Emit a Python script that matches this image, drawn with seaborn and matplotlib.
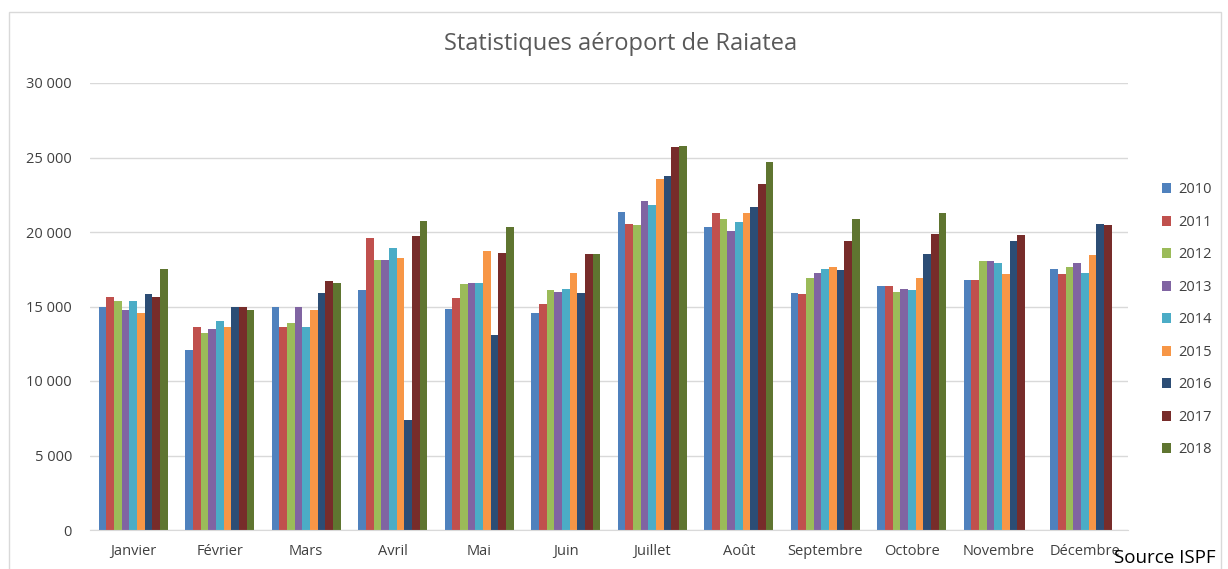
import numpy as np
import pandas as pd
import seaborn as sns
import matplotlib.pyplot as plt
from matplotlib.patches import Rectangle
from matplotlib.ticker import FuncFormatter

mois = ['Janvier', 'Février', 'Mars', 'Avril', 'Mai', 'Juin', 'Juillet',
        'Août', 'Septembre', 'Octobre', 'Novembre', 'Décembre']
annees = ['2010', '2011', '2012', '2013', '2014', '2015', '2016', '2017', '2018']

v2010 = [15000, 12100, 15000, 16100, 14850, 14550, 21350, 20350, 15900, 16400, 16800, 17550]
v2011 = [15650, 13650, 13650, 19600, 15600, 15150, 20550, 21250, 15850, 16400, 16800, 17150]
v2012 = [15400, 13200, 13900, 18150, 16500, 16100, 20450, 20850, 16900, 16000, 18050, 17650]
v2013 = [14750, 13500, 15000, 18150, 16600, 16000, 22100, 20050, 17250, 16200, 18050, 17950]
v2014 = [15400, 14000, 13650, 18900, 16600, 16200, 21800, 20650, 17550, 16100, 17950, 17250]
v2015 = [14550, 13600, 14750, 18250, 18700, 17250, 23550, 21250, 17650, 16900, 17150, 18450]
v2016 = [15850, 15000, 15900, 7400, 13100, 15900, 23750, 21700, 17450, 18500, 19400, 20550]
v2017 = [15650, 15000, 16700, 19700, 18600, 18550, 25700, 23250, 19400, 19850, 19800, 20450]
v2018 = [17550, 14750, 16600, 20750, 20350, 18550, 25800, 24700, 20900, 21250, np.nan, np.nan]

couleurs = ['#4F81BD', '#C0504D', '#9BBB59', '#8064A2', '#4BACC6',
            '#F79646', '#2C4D75', '#772C2A', '#5F7530']

series = [v2010, v2011, v2012, v2013, v2014, v2015, v2016, v2017, v2018]
df = pd.DataFrame({
    'mois': mois * len(annees),
    'annee': [a for a in annees for _ in mois],
    'valeur': [v for s in series for v in s],
})

sns.set_style("white")
plt.rcParams['font.family'] = ['Open Sans', 'DejaVu Sans']

fig = plt.figure(figsize=(12.28, 5.69), dpi=100)
ax = fig.add_axes([90 / 1228, 1 - 530 / 569, 1038 / 1228, 447 / 569])

sns.barplot(data=df, x='mois', y='valeur', hue='annee', order=mois,
            hue_order=annees, palette=couleurs, saturation=1, width=0.8,
            edgecolor='none', ax=ax)

ax.set_ylim(0, 30000)
ax.set_yticks(range(0, 30001, 5000))
ax.yaxis.set_major_formatter(FuncFormatter(lambda v, p: f"{int(v):,}".replace(',', ' ')))
ax.grid(axis='y', color='#d9d9d9', linewidth=1)
ax.set_axisbelow(True)
for s in ['top', 'right', 'left']:
    ax.spines[s].set_visible(False)
ax.spines['bottom'].set_color('#d9d9d9')
ax.tick_params(axis='both', length=0, labelsize=10.5, colors='#404040')
ax.tick_params(axis='y', pad=13)
ax.tick_params(axis='x', pad=10)
ax.set_xlabel('')
ax.set_ylabel('')

ax.legend(loc='upper left', bbox_to_anchor=(1.02, 0.807), frameon=False,
          fontsize=10.5, labelcolor='#404040', handlelength=0.65,
          handleheight=0.65, handletextpad=0.45, labelspacing=1.2)

fig.text(0.505, 0.922, 'Statistiques aéroport de Raiatea', ha='center',
         va='center', fontsize=17, color='#595959')
fig.text(1114 / 1228, 0.02, 'Source ISPF', ha='left', va='center', fontsize=13.5,
         color='black')

fig.patches.append(Rectangle((9 / 1228, -0.01), 1212 / 1228, 1 - 12 / 569 + 0.01,
                             transform=fig.transFigure, fill=False,
                             edgecolor='#d9d9d9', linewidth=1, zorder=0))

plt.savefig('out.png', dpi=100)
